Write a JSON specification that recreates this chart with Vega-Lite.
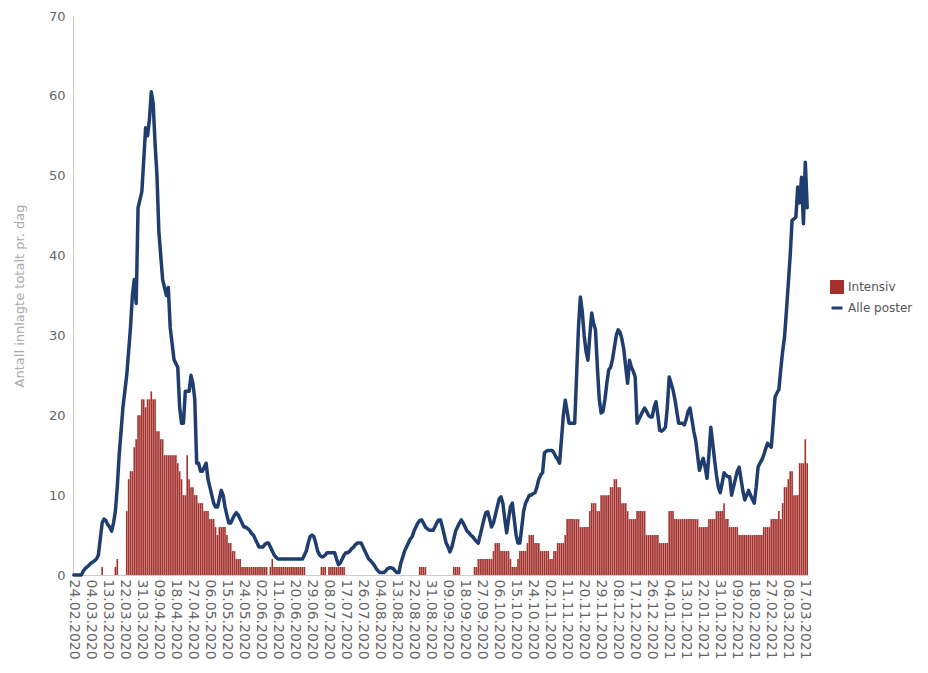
{
  "$schema": "https://vega.github.io/schema/vega-lite/v6.json",
  "width": 735,
  "height": 559,
  "autosize": "none",
  "padding": {"left": 73, "top": 16, "right": 120, "bottom": 98},
  "background": "white",
  "config": {
    "view": {"stroke": null},
    "font": "DejaVu Sans",
    "axis": {"labelFont": "DejaVu Sans", "titleFont": "DejaVu Sans", "grid": false, "domainColor": "#cccccc", "labelColor": "#666666", "tickColor": "#cccccc"},
    "legend": {"labelFont": "DejaVu Sans", "labelFontSize": 12, "labelColor": "#444444"}
  },
  "data": {"values": [
    {"dato":"24.02.2020","alle":0,"intensiv":0},
    {"dato":"25.02.2020","alle":0,"intensiv":0},
    {"dato":"26.02.2020","alle":0,"intensiv":0},
    {"dato":"27.02.2020","alle":0,"intensiv":0},
    {"dato":"28.02.2020","alle":0,"intensiv":0},
    {"dato":"29.02.2020","alle":0.5,"intensiv":0},
    {"dato":"01.03.2020","alle":0.8,"intensiv":0},
    {"dato":"02.03.2020","alle":1,"intensiv":0},
    {"dato":"03.03.2020","alle":1.2,"intensiv":0},
    {"dato":"04.03.2020","alle":1.5,"intensiv":0},
    {"dato":"05.03.2020","alle":1.6,"intensiv":0},
    {"dato":"06.03.2020","alle":1.8,"intensiv":0},
    {"dato":"07.03.2020","alle":2,"intensiv":0},
    {"dato":"08.03.2020","alle":2.5,"intensiv":0},
    {"dato":"09.03.2020","alle":4.5,"intensiv":0},
    {"dato":"10.03.2020","alle":6.5,"intensiv":1},
    {"dato":"11.03.2020","alle":7,"intensiv":0},
    {"dato":"12.03.2020","alle":6.8,"intensiv":0},
    {"dato":"13.03.2020","alle":6.3,"intensiv":0},
    {"dato":"14.03.2020","alle":6,"intensiv":0},
    {"dato":"15.03.2020","alle":5.5,"intensiv":0},
    {"dato":"16.03.2020","alle":6.5,"intensiv":0},
    {"dato":"17.03.2020","alle":8,"intensiv":1},
    {"dato":"18.03.2020","alle":11,"intensiv":2},
    {"dato":"19.03.2020","alle":15,"intensiv":0},
    {"dato":"20.03.2020","alle":18,"intensiv":0},
    {"dato":"21.03.2020","alle":21,"intensiv":0},
    {"dato":"22.03.2020","alle":23,"intensiv":0},
    {"dato":"23.03.2020","alle":25,"intensiv":8},
    {"dato":"24.03.2020","alle":28,"intensiv":12},
    {"dato":"25.03.2020","alle":31,"intensiv":13},
    {"dato":"26.03.2020","alle":35,"intensiv":13},
    {"dato":"27.03.2020","alle":37,"intensiv":16},
    {"dato":"28.03.2020","alle":34,"intensiv":17},
    {"dato":"29.03.2020","alle":46,"intensiv":20},
    {"dato":"30.03.2020","alle":47,"intensiv":20},
    {"dato":"31.03.2020","alle":48,"intensiv":22},
    {"dato":"01.04.2020","alle":52,"intensiv":22},
    {"dato":"02.04.2020","alle":56,"intensiv":21},
    {"dato":"03.04.2020","alle":55,"intensiv":22},
    {"dato":"04.04.2020","alle":57,"intensiv":22},
    {"dato":"05.04.2020","alle":60.5,"intensiv":23},
    {"dato":"06.04.2020","alle":59,"intensiv":22},
    {"dato":"07.04.2020","alle":54,"intensiv":22},
    {"dato":"08.04.2020","alle":50,"intensiv":18},
    {"dato":"09.04.2020","alle":43,"intensiv":18},
    {"dato":"10.04.2020","alle":40,"intensiv":17},
    {"dato":"11.04.2020","alle":37,"intensiv":17},
    {"dato":"12.04.2020","alle":36,"intensiv":15},
    {"dato":"13.04.2020","alle":35,"intensiv":15},
    {"dato":"14.04.2020","alle":36,"intensiv":15},
    {"dato":"15.04.2020","alle":31,"intensiv":15},
    {"dato":"16.04.2020","alle":29,"intensiv":15},
    {"dato":"17.04.2020","alle":27,"intensiv":15},
    {"dato":"18.04.2020","alle":26.5,"intensiv":15},
    {"dato":"19.04.2020","alle":26,"intensiv":14},
    {"dato":"20.04.2020","alle":21,"intensiv":13},
    {"dato":"21.04.2020","alle":19,"intensiv":12},
    {"dato":"22.04.2020","alle":19,"intensiv":10},
    {"dato":"23.04.2020","alle":23,"intensiv":10},
    {"dato":"24.04.2020","alle":23,"intensiv":15},
    {"dato":"25.04.2020","alle":23,"intensiv":12},
    {"dato":"26.04.2020","alle":25,"intensiv":11},
    {"dato":"27.04.2020","alle":24,"intensiv":11},
    {"dato":"28.04.2020","alle":22,"intensiv":10},
    {"dato":"29.04.2020","alle":14,"intensiv":10},
    {"dato":"30.04.2020","alle":14,"intensiv":9},
    {"dato":"01.05.2020","alle":13,"intensiv":9},
    {"dato":"02.05.2020","alle":13,"intensiv":9},
    {"dato":"03.05.2020","alle":13.5,"intensiv":8},
    {"dato":"04.05.2020","alle":14,"intensiv":8},
    {"dato":"05.05.2020","alle":12,"intensiv":8},
    {"dato":"06.05.2020","alle":11,"intensiv":7},
    {"dato":"07.05.2020","alle":10,"intensiv":7},
    {"dato":"08.05.2020","alle":9,"intensiv":7},
    {"dato":"09.05.2020","alle":8.5,"intensiv":6},
    {"dato":"10.05.2020","alle":8.5,"intensiv":5},
    {"dato":"11.05.2020","alle":9.5,"intensiv":6},
    {"dato":"12.05.2020","alle":10.6,"intensiv":6},
    {"dato":"13.05.2020","alle":10,"intensiv":6},
    {"dato":"14.05.2020","alle":8.5,"intensiv":6},
    {"dato":"15.05.2020","alle":7.5,"intensiv":5},
    {"dato":"16.05.2020","alle":6.5,"intensiv":4},
    {"dato":"17.05.2020","alle":6.5,"intensiv":4},
    {"dato":"18.05.2020","alle":7,"intensiv":3},
    {"dato":"19.05.2020","alle":7.5,"intensiv":3},
    {"dato":"20.05.2020","alle":7.8,"intensiv":2},
    {"dato":"21.05.2020","alle":7.5,"intensiv":2},
    {"dato":"22.05.2020","alle":7,"intensiv":2},
    {"dato":"23.05.2020","alle":6.5,"intensiv":1},
    {"dato":"24.05.2020","alle":6,"intensiv":1},
    {"dato":"25.05.2020","alle":6,"intensiv":1},
    {"dato":"26.05.2020","alle":5.8,"intensiv":1},
    {"dato":"27.05.2020","alle":5.6,"intensiv":1},
    {"dato":"28.05.2020","alle":5.2,"intensiv":1},
    {"dato":"29.05.2020","alle":5,"intensiv":1},
    {"dato":"30.05.2020","alle":4.5,"intensiv":1},
    {"dato":"31.05.2020","alle":4,"intensiv":1},
    {"dato":"01.06.2020","alle":3.5,"intensiv":1},
    {"dato":"02.06.2020","alle":3.5,"intensiv":1},
    {"dato":"03.06.2020","alle":3.5,"intensiv":1},
    {"dato":"04.06.2020","alle":3.8,"intensiv":1},
    {"dato":"05.06.2020","alle":4,"intensiv":1},
    {"dato":"06.06.2020","alle":4,"intensiv":0},
    {"dato":"07.06.2020","alle":3.5,"intensiv":1},
    {"dato":"08.06.2020","alle":3,"intensiv":2},
    {"dato":"09.06.2020","alle":2.5,"intensiv":1},
    {"dato":"10.06.2020","alle":2.2,"intensiv":1},
    {"dato":"11.06.2020","alle":2,"intensiv":1},
    {"dato":"12.06.2020","alle":2,"intensiv":1},
    {"dato":"13.06.2020","alle":2,"intensiv":1},
    {"dato":"14.06.2020","alle":2,"intensiv":1},
    {"dato":"15.06.2020","alle":2,"intensiv":1},
    {"dato":"16.06.2020","alle":2,"intensiv":1},
    {"dato":"17.06.2020","alle":2,"intensiv":1},
    {"dato":"18.06.2020","alle":2,"intensiv":1},
    {"dato":"19.06.2020","alle":2,"intensiv":1},
    {"dato":"20.06.2020","alle":2,"intensiv":1},
    {"dato":"21.06.2020","alle":2,"intensiv":1},
    {"dato":"22.06.2020","alle":2,"intensiv":1},
    {"dato":"23.06.2020","alle":2,"intensiv":1},
    {"dato":"24.06.2020","alle":2,"intensiv":1},
    {"dato":"25.06.2020","alle":2.5,"intensiv":1},
    {"dato":"26.06.2020","alle":3,"intensiv":0},
    {"dato":"27.06.2020","alle":4,"intensiv":0},
    {"dato":"28.06.2020","alle":4.8,"intensiv":0},
    {"dato":"29.06.2020","alle":5,"intensiv":0},
    {"dato":"30.06.2020","alle":4.8,"intensiv":0},
    {"dato":"01.07.2020","alle":4,"intensiv":0},
    {"dato":"02.07.2020","alle":3,"intensiv":0},
    {"dato":"03.07.2020","alle":2.5,"intensiv":0},
    {"dato":"04.07.2020","alle":2.3,"intensiv":1},
    {"dato":"05.07.2020","alle":2.3,"intensiv":1},
    {"dato":"06.07.2020","alle":2.5,"intensiv":1},
    {"dato":"07.07.2020","alle":2.8,"intensiv":0},
    {"dato":"08.07.2020","alle":2.8,"intensiv":1},
    {"dato":"09.07.2020","alle":2.8,"intensiv":1},
    {"dato":"10.07.2020","alle":2.8,"intensiv":1},
    {"dato":"11.07.2020","alle":2.8,"intensiv":1},
    {"dato":"12.07.2020","alle":2,"intensiv":1},
    {"dato":"13.07.2020","alle":1.3,"intensiv":1},
    {"dato":"14.07.2020","alle":1.5,"intensiv":1},
    {"dato":"15.07.2020","alle":2,"intensiv":1},
    {"dato":"16.07.2020","alle":2.5,"intensiv":1},
    {"dato":"17.07.2020","alle":2.8,"intensiv":0},
    {"dato":"18.07.2020","alle":2.8,"intensiv":0},
    {"dato":"19.07.2020","alle":3,"intensiv":0},
    {"dato":"20.07.2020","alle":3.3,"intensiv":0},
    {"dato":"21.07.2020","alle":3.5,"intensiv":0},
    {"dato":"22.07.2020","alle":3.8,"intensiv":0},
    {"dato":"23.07.2020","alle":4,"intensiv":0},
    {"dato":"24.07.2020","alle":4,"intensiv":0},
    {"dato":"25.07.2020","alle":4,"intensiv":0},
    {"dato":"26.07.2020","alle":3.5,"intensiv":0},
    {"dato":"27.07.2020","alle":3,"intensiv":0},
    {"dato":"28.07.2020","alle":2.5,"intensiv":0},
    {"dato":"29.07.2020","alle":2,"intensiv":0},
    {"dato":"30.07.2020","alle":1.8,"intensiv":0},
    {"dato":"31.07.2020","alle":1.5,"intensiv":0},
    {"dato":"01.08.2020","alle":1.2,"intensiv":0},
    {"dato":"02.08.2020","alle":0.8,"intensiv":0},
    {"dato":"03.08.2020","alle":0.5,"intensiv":0},
    {"dato":"04.08.2020","alle":0.3,"intensiv":0},
    {"dato":"05.08.2020","alle":0.3,"intensiv":0},
    {"dato":"06.08.2020","alle":0.3,"intensiv":0},
    {"dato":"07.08.2020","alle":0.5,"intensiv":0},
    {"dato":"08.08.2020","alle":0.8,"intensiv":0},
    {"dato":"09.08.2020","alle":0.9,"intensiv":0},
    {"dato":"10.08.2020","alle":0.9,"intensiv":0},
    {"dato":"11.08.2020","alle":0.8,"intensiv":0},
    {"dato":"12.08.2020","alle":0.5,"intensiv":0},
    {"dato":"13.08.2020","alle":0.3,"intensiv":0},
    {"dato":"14.08.2020","alle":0.3,"intensiv":0},
    {"dato":"15.08.2020","alle":1.5,"intensiv":0},
    {"dato":"16.08.2020","alle":2.2,"intensiv":0},
    {"dato":"17.08.2020","alle":3,"intensiv":0},
    {"dato":"18.08.2020","alle":3.5,"intensiv":0},
    {"dato":"19.08.2020","alle":4,"intensiv":0},
    {"dato":"20.08.2020","alle":4.5,"intensiv":0},
    {"dato":"21.08.2020","alle":4.8,"intensiv":0},
    {"dato":"22.08.2020","alle":5.5,"intensiv":0},
    {"dato":"23.08.2020","alle":6,"intensiv":0},
    {"dato":"24.08.2020","alle":6.5,"intensiv":0},
    {"dato":"25.08.2020","alle":6.8,"intensiv":1},
    {"dato":"26.08.2020","alle":6.9,"intensiv":1},
    {"dato":"27.08.2020","alle":6.5,"intensiv":1},
    {"dato":"28.08.2020","alle":6,"intensiv":1},
    {"dato":"29.08.2020","alle":5.8,"intensiv":0},
    {"dato":"30.08.2020","alle":5.6,"intensiv":0},
    {"dato":"31.08.2020","alle":5.6,"intensiv":0},
    {"dato":"01.09.2020","alle":5.6,"intensiv":0},
    {"dato":"02.09.2020","alle":6,"intensiv":0},
    {"dato":"03.09.2020","alle":6.5,"intensiv":0},
    {"dato":"04.09.2020","alle":6.9,"intensiv":0},
    {"dato":"05.09.2020","alle":6.9,"intensiv":0},
    {"dato":"06.09.2020","alle":6,"intensiv":0},
    {"dato":"07.09.2020","alle":5,"intensiv":0},
    {"dato":"08.09.2020","alle":4,"intensiv":0},
    {"dato":"09.09.2020","alle":3.5,"intensiv":0},
    {"dato":"10.09.2020","alle":2.9,"intensiv":0},
    {"dato":"11.09.2020","alle":3.5,"intensiv":0},
    {"dato":"12.09.2020","alle":4.5,"intensiv":1},
    {"dato":"13.09.2020","alle":5.5,"intensiv":1},
    {"dato":"14.09.2020","alle":6,"intensiv":1},
    {"dato":"15.09.2020","alle":6.5,"intensiv":1},
    {"dato":"16.09.2020","alle":6.9,"intensiv":0},
    {"dato":"17.09.2020","alle":6.5,"intensiv":0},
    {"dato":"18.09.2020","alle":6,"intensiv":0},
    {"dato":"19.09.2020","alle":5.5,"intensiv":0},
    {"dato":"20.09.2020","alle":5.3,"intensiv":0},
    {"dato":"21.09.2020","alle":5,"intensiv":0},
    {"dato":"22.09.2020","alle":4.8,"intensiv":0},
    {"dato":"23.09.2020","alle":4.5,"intensiv":1},
    {"dato":"24.09.2020","alle":4.2,"intensiv":1},
    {"dato":"25.09.2020","alle":4,"intensiv":2},
    {"dato":"26.09.2020","alle":5,"intensiv":2},
    {"dato":"27.09.2020","alle":6,"intensiv":2},
    {"dato":"28.09.2020","alle":7,"intensiv":2},
    {"dato":"29.09.2020","alle":7.8,"intensiv":2},
    {"dato":"30.09.2020","alle":7.9,"intensiv":2},
    {"dato":"01.10.2020","alle":7,"intensiv":2},
    {"dato":"02.10.2020","alle":6,"intensiv":2},
    {"dato":"03.10.2020","alle":6.5,"intensiv":3},
    {"dato":"04.10.2020","alle":7.5,"intensiv":4},
    {"dato":"05.10.2020","alle":8.5,"intensiv":4},
    {"dato":"06.10.2020","alle":9.5,"intensiv":4},
    {"dato":"07.10.2020","alle":9.8,"intensiv":3},
    {"dato":"08.10.2020","alle":9,"intensiv":3},
    {"dato":"09.10.2020","alle":7,"intensiv":3},
    {"dato":"10.10.2020","alle":5.3,"intensiv":3},
    {"dato":"11.10.2020","alle":7,"intensiv":3},
    {"dato":"12.10.2020","alle":8.5,"intensiv":2},
    {"dato":"13.10.2020","alle":9,"intensiv":1},
    {"dato":"14.10.2020","alle":7,"intensiv":1},
    {"dato":"15.10.2020","alle":5,"intensiv":1},
    {"dato":"16.10.2020","alle":4,"intensiv":2},
    {"dato":"17.10.2020","alle":4,"intensiv":3},
    {"dato":"18.10.2020","alle":6,"intensiv":3},
    {"dato":"19.10.2020","alle":8,"intensiv":3},
    {"dato":"20.10.2020","alle":9,"intensiv":3},
    {"dato":"21.10.2020","alle":9.5,"intensiv":4},
    {"dato":"22.10.2020","alle":10,"intensiv":5},
    {"dato":"23.10.2020","alle":10,"intensiv":5},
    {"dato":"24.10.2020","alle":10.2,"intensiv":5},
    {"dato":"25.10.2020","alle":10.3,"intensiv":4},
    {"dato":"26.10.2020","alle":11,"intensiv":4},
    {"dato":"27.10.2020","alle":12,"intensiv":4},
    {"dato":"28.10.2020","alle":12.5,"intensiv":3},
    {"dato":"29.10.2020","alle":12.8,"intensiv":3},
    {"dato":"30.10.2020","alle":15.3,"intensiv":3},
    {"dato":"31.10.2020","alle":15.5,"intensiv":3},
    {"dato":"01.11.2020","alle":15.6,"intensiv":3},
    {"dato":"02.11.2020","alle":15.6,"intensiv":2},
    {"dato":"03.11.2020","alle":15.6,"intensiv":2},
    {"dato":"04.11.2020","alle":15.3,"intensiv":3},
    {"dato":"05.11.2020","alle":14.8,"intensiv":3},
    {"dato":"06.11.2020","alle":14.5,"intensiv":4},
    {"dato":"07.11.2020","alle":14,"intensiv":4},
    {"dato":"08.11.2020","alle":17,"intensiv":4},
    {"dato":"09.11.2020","alle":20,"intensiv":4},
    {"dato":"10.11.2020","alle":21.9,"intensiv":5},
    {"dato":"11.11.2020","alle":20.5,"intensiv":7},
    {"dato":"12.11.2020","alle":19,"intensiv":7},
    {"dato":"13.11.2020","alle":19,"intensiv":7},
    {"dato":"14.11.2020","alle":19,"intensiv":7},
    {"dato":"15.11.2020","alle":19,"intensiv":7},
    {"dato":"16.11.2020","alle":25,"intensiv":7},
    {"dato":"17.11.2020","alle":31,"intensiv":7},
    {"dato":"18.11.2020","alle":34.8,"intensiv":6},
    {"dato":"19.11.2020","alle":33,"intensiv":6},
    {"dato":"20.11.2020","alle":30,"intensiv":6},
    {"dato":"21.11.2020","alle":28,"intensiv":6},
    {"dato":"22.11.2020","alle":26.9,"intensiv":6},
    {"dato":"23.11.2020","alle":30,"intensiv":8},
    {"dato":"24.11.2020","alle":32.8,"intensiv":9},
    {"dato":"25.11.2020","alle":31.5,"intensiv":9},
    {"dato":"26.11.2020","alle":30.7,"intensiv":9},
    {"dato":"27.11.2020","alle":26,"intensiv":8},
    {"dato":"28.11.2020","alle":22,"intensiv":8},
    {"dato":"29.11.2020","alle":20.3,"intensiv":10},
    {"dato":"30.11.2020","alle":20.5,"intensiv":10},
    {"dato":"01.12.2020","alle":22,"intensiv":10},
    {"dato":"02.12.2020","alle":24,"intensiv":10},
    {"dato":"03.12.2020","alle":25.7,"intensiv":10},
    {"dato":"04.12.2020","alle":26,"intensiv":11},
    {"dato":"05.12.2020","alle":27,"intensiv":11},
    {"dato":"06.12.2020","alle":28.5,"intensiv":12},
    {"dato":"07.12.2020","alle":30,"intensiv":12},
    {"dato":"08.12.2020","alle":30.7,"intensiv":11},
    {"dato":"09.12.2020","alle":30.4,"intensiv":11},
    {"dato":"10.12.2020","alle":29.5,"intensiv":9},
    {"dato":"11.12.2020","alle":28.2,"intensiv":9},
    {"dato":"12.12.2020","alle":26,"intensiv":9},
    {"dato":"13.12.2020","alle":24,"intensiv":8},
    {"dato":"14.12.2020","alle":26.9,"intensiv":7},
    {"dato":"15.12.2020","alle":26,"intensiv":7},
    {"dato":"16.12.2020","alle":25.5,"intensiv":7},
    {"dato":"17.12.2020","alle":24.8,"intensiv":7},
    {"dato":"18.12.2020","alle":19,"intensiv":8},
    {"dato":"19.12.2020","alle":19.5,"intensiv":8},
    {"dato":"20.12.2020","alle":20,"intensiv":8},
    {"dato":"21.12.2020","alle":20.5,"intensiv":8},
    {"dato":"22.12.2020","alle":20.9,"intensiv":8},
    {"dato":"23.12.2020","alle":20.5,"intensiv":5},
    {"dato":"24.12.2020","alle":20,"intensiv":5},
    {"dato":"25.12.2020","alle":19.8,"intensiv":5},
    {"dato":"26.12.2020","alle":19.8,"intensiv":5},
    {"dato":"27.12.2020","alle":21,"intensiv":5},
    {"dato":"28.12.2020","alle":21.7,"intensiv":5},
    {"dato":"29.12.2020","alle":20,"intensiv":5},
    {"dato":"30.12.2020","alle":18.1,"intensiv":4},
    {"dato":"31.12.2020","alle":18,"intensiv":4},
    {"dato":"01.01.2021","alle":18.2,"intensiv":4},
    {"dato":"02.01.2021","alle":18.5,"intensiv":4},
    {"dato":"03.01.2021","alle":21,"intensiv":4},
    {"dato":"04.01.2021","alle":24.8,"intensiv":8},
    {"dato":"05.01.2021","alle":24,"intensiv":8},
    {"dato":"06.01.2021","alle":23.2,"intensiv":8},
    {"dato":"07.01.2021","alle":22,"intensiv":7},
    {"dato":"08.01.2021","alle":20.5,"intensiv":7},
    {"dato":"09.01.2021","alle":19,"intensiv":7},
    {"dato":"10.01.2021","alle":19,"intensiv":7},
    {"dato":"11.01.2021","alle":19,"intensiv":7},
    {"dato":"12.01.2021","alle":18.8,"intensiv":7},
    {"dato":"13.01.2021","alle":19.5,"intensiv":7},
    {"dato":"14.01.2021","alle":20.5,"intensiv":7},
    {"dato":"15.01.2021","alle":20.9,"intensiv":7},
    {"dato":"16.01.2021","alle":19.5,"intensiv":7},
    {"dato":"17.01.2021","alle":18,"intensiv":7},
    {"dato":"18.01.2021","alle":16.9,"intensiv":7},
    {"dato":"19.01.2021","alle":15,"intensiv":7},
    {"dato":"20.01.2021","alle":13.1,"intensiv":6},
    {"dato":"21.01.2021","alle":14,"intensiv":6},
    {"dato":"22.01.2021","alle":14.6,"intensiv":6},
    {"dato":"23.01.2021","alle":13.5,"intensiv":6},
    {"dato":"24.01.2021","alle":12.1,"intensiv":6},
    {"dato":"25.01.2021","alle":15,"intensiv":7},
    {"dato":"26.01.2021","alle":18.5,"intensiv":7},
    {"dato":"27.01.2021","alle":16.5,"intensiv":7},
    {"dato":"28.01.2021","alle":14.4,"intensiv":7},
    {"dato":"29.01.2021","alle":12.5,"intensiv":8},
    {"dato":"30.01.2021","alle":11,"intensiv":8},
    {"dato":"31.01.2021","alle":10.3,"intensiv":8},
    {"dato":"01.02.2021","alle":11.5,"intensiv":8},
    {"dato":"02.02.2021","alle":12.8,"intensiv":9},
    {"dato":"03.02.2021","alle":12.5,"intensiv":7},
    {"dato":"04.02.2021","alle":12.3,"intensiv":7},
    {"dato":"05.02.2021","alle":12.3,"intensiv":6},
    {"dato":"06.02.2021","alle":10,"intensiv":6},
    {"dato":"07.02.2021","alle":11,"intensiv":6},
    {"dato":"08.02.2021","alle":12,"intensiv":6},
    {"dato":"09.02.2021","alle":13,"intensiv":6},
    {"dato":"10.02.2021","alle":13.5,"intensiv":5},
    {"dato":"11.02.2021","alle":12,"intensiv":5},
    {"dato":"12.02.2021","alle":10.5,"intensiv":5},
    {"dato":"13.02.2021","alle":9.4,"intensiv":5},
    {"dato":"14.02.2021","alle":10,"intensiv":5},
    {"dato":"15.02.2021","alle":10.6,"intensiv":5},
    {"dato":"16.02.2021","alle":10,"intensiv":5},
    {"dato":"17.02.2021","alle":9.5,"intensiv":5},
    {"dato":"18.02.2021","alle":9,"intensiv":5},
    {"dato":"19.02.2021","alle":11,"intensiv":5},
    {"dato":"20.02.2021","alle":13.5,"intensiv":5},
    {"dato":"21.02.2021","alle":14,"intensiv":5},
    {"dato":"22.02.2021","alle":14.4,"intensiv":5},
    {"dato":"23.02.2021","alle":15,"intensiv":6},
    {"dato":"24.02.2021","alle":15.8,"intensiv":6},
    {"dato":"25.02.2021","alle":16.5,"intensiv":6},
    {"dato":"26.02.2021","alle":16.2,"intensiv":6},
    {"dato":"27.02.2021","alle":16,"intensiv":7},
    {"dato":"28.02.2021","alle":19,"intensiv":7},
    {"dato":"01.03.2021","alle":22.3,"intensiv":7},
    {"dato":"02.03.2021","alle":22.8,"intensiv":7},
    {"dato":"03.03.2021","alle":23.2,"intensiv":8},
    {"dato":"04.03.2021","alle":25.7,"intensiv":7},
    {"dato":"05.03.2021","alle":28,"intensiv":9},
    {"dato":"06.03.2021","alle":29.8,"intensiv":11},
    {"dato":"07.03.2021","alle":33,"intensiv":11},
    {"dato":"08.03.2021","alle":36.5,"intensiv":12},
    {"dato":"09.03.2021","alle":40,"intensiv":13},
    {"dato":"10.03.2021","alle":44.4,"intensiv":13},
    {"dato":"11.03.2021","alle":44.6,"intensiv":10},
    {"dato":"12.03.2021","alle":44.8,"intensiv":10},
    {"dato":"13.03.2021","alle":48.6,"intensiv":10},
    {"dato":"14.03.2021","alle":46.6,"intensiv":14},
    {"dato":"15.03.2021","alle":49.8,"intensiv":14},
    {"dato":"16.03.2021","alle":44,"intensiv":14},
    {"dato":"17.03.2021","alle":51.7,"intensiv":17},
    {"dato":"18.03.2021","alle":46,"intensiv":14}
  ]},
  "encoding": {
    "x": {
      "field": "dato",
      "type": "ordinal",
      "sort": null,
      "scale": {"paddingInner": 0.15, "paddingOuter": 0},
      "axis": {
        "title": null,
        "labelAngle": 90,
        "labelFontSize": 14,
        "labelPadding": 4,
        "ticks": false,
        "values": ["24.02.2020","04.03.2020","13.03.2020","22.03.2020","31.03.2020","09.04.2020","18.04.2020","27.04.2020","06.05.2020","15.05.2020","24.05.2020","02.06.2020","11.06.2020","20.06.2020","29.06.2020","08.07.2020","17.07.2020","26.07.2020","04.08.2020","13.08.2020","22.08.2020","31.08.2020","09.09.2020","18.09.2020","27.09.2020","06.10.2020","15.10.2020","24.10.2020","02.11.2020","11.11.2020","20.11.2020","29.11.2020","08.12.2020","17.12.2020","26.12.2020","04.01.2021","13.01.2021","22.01.2021","31.01.2021","09.02.2021","18.02.2021","27.02.2021","08.03.2021","17.03.2021"]
      }
    }
  },
  "layer": [
    {
      "mark": {"type": "bar"},
      "encoding": {
        "y": {
          "field": "intensiv",
          "type": "quantitative",
          "scale": {"domain": [0, 70], "nice": false},
          "axis": {"title": "Antall innlagte totalt pr. dag", "titleColor": "#aaaaaa", "titleFontWeight": "normal", "titleFontSize": 13, "titlePadding": 22, "labelFontSize": 13, "labelPadding": 8, "ticks": false, "values": [0,10,20,30,40,50,60,70]}
        },
        "color": {
          "datum": "Intensiv",
          "type": "nominal",
          "scale": {"domain": ["Intensiv", "Alle poster"], "range": ["#a3302b", "#1f3d6e"]},
          "legend": {
            "title": null,
            "orient": "none",
            "legendX": 757,
            "legendY": 264,
            "symbolSize": 120,
            "rowPadding": 2,
            "labelFontSize": 12,
            "labelColor": "#555555",
            "symbolStrokeWidth": 3,
            "encode": {"symbols": {"update": {"shape": {"signal": "datum.value === 'Intensiv' ? 'square' : 'stroke'"}}}}
          }
        }
      }
    },
    {
      "mark": {"type": "line", "strokeWidth": 3.5, "strokeJoin": "round", "strokeCap": "round"},
      "encoding": {
        "y": {"field": "alle", "type": "quantitative"},
        "color": {"datum": "Alle poster", "type": "nominal"}
      }
    }
  ]
}
